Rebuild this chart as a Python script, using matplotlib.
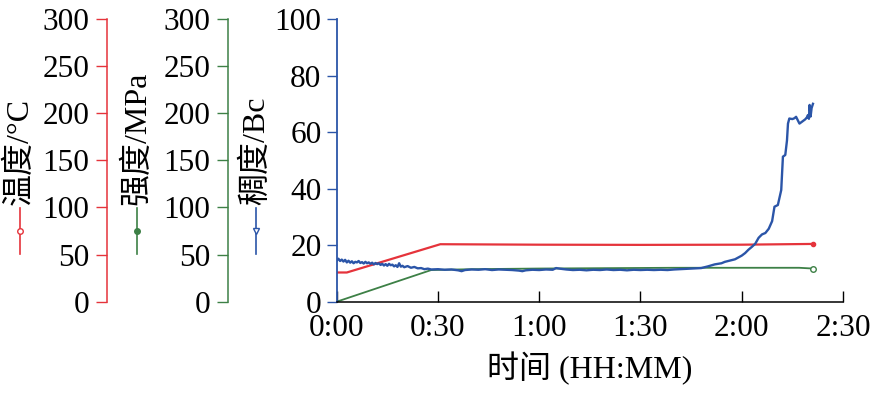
import matplotlib
matplotlib.use("Agg")
import matplotlib.pyplot as plt
from matplotlib.lines import Line2D
from matplotlib.ticker import FuncFormatter, MultipleLocator

plt.rcParams['font.family'] = ['Liberation Serif', 'Noto Sans CJK SC']
plt.rcParams['font.size'] = 22.5

# -------------------------------------------------------------------
# Datos (tiempo en minutos)
# -------------------------------------------------------------------
t_temp = [0, 3, 30.7, 60, 90, 120, 141]
temp = [31, 31, 61, 60.5, 60.3, 60.5, 61.3]

t_str = [0, 28, 40, 60, 80, 100, 120, 137, 141]
strength = [0, 33.6, 34.5, 35.2, 35.6, 36.0, 36.0, 36.0, 35.2]

t_bc = [0, 0.5, 1, 1.5, 2, 2.5, 3, 3.5, 4, 4.5, 5, 5.5, 6, 6.5, 7, 7.5, 8,
        8.5, 9, 9.5, 10, 10.5, 11, 11.5, 12, 12.5, 13, 13.5, 14, 14.5, 15,
        15.5, 16, 16.5, 17, 17.5, 18, 18.5, 19, 19.5, 20, 21, 22, 23, 24, 25,
        26, 27, 28, 30, 32, 34, 36, 37, 38, 40, 42, 44, 46, 48, 50, 52, 54,
        55, 56, 58, 60, 62, 64, 65, 66, 68, 70, 72, 74, 76, 78, 80, 82, 84,
        86, 88, 90, 92, 94, 96, 98, 100, 103, 105, 108, 110, 112, 114, 115,
        117, 118, 120, 121, 122, 123, 124, 125, 126, 127, 128, 129, 129.7,
        130.7, 131.7, 132.2, 132.9, 133.4, 133.7, 134.1, 135, 135.6, 136.1,
        136.6, 137.1, 138, 138.8, 139.3, 139.6, 139.9, 140.1, 140.4, 140.7,
        141.1]
bc = [14.5, 15.2, 14.4, 14.9, 14.2, 14.8, 13.9, 14.5, 13.8, 14.3, 13.6,
      14.1, 13.9, 14.4, 13.7, 14.0, 13.5, 14.1, 13.6, 13.9, 13.4, 13.8, 13.2,
      13.7, 13.3, 13.6, 13.0, 13.4, 12.8, 13.3, 12.7, 13.4, 12.9, 13.1, 12.5,
      12.9, 12.3, 13.6, 12.4, 12.7, 12.2, 12.6, 12.0, 12.3, 11.8, 11.9, 11.5,
      11.7, 11.4, 11.5, 11.3, 11.4, 11.1, 10.8, 11.2, 11.4, 11.3, 11.5, 11.2,
      11.4, 11.3, 11.2, 11.0, 10.8, 11.1, 11.3, 11.2, 11.4, 11.3, 11.9, 11.7,
      11.4, 11.2, 11.3, 11.1, 11.3, 11.2, 11.4, 11.2, 11.3, 11.1, 11.3, 11.2,
      11.3, 11.2, 11.3, 11.2, 11.4, 11.6, 11.7, 11.9, 12.5, 13.2, 13.6, 14.1,
      14.7, 15.0, 16.3, 17.2, 18.4, 19.4, 20.5, 22.6, 23.8, 24.3, 25.8, 28.5,
      33.6, 34.2, 39.5, 51.3, 51.9, 57.0, 63.0, 64.8, 64.6, 64.9, 65.4, 64.2,
      63.0, 63.8, 64.5, 65.2, 66.0, 64.7, 69.6, 65.5, 68.5, 70.0]

c_red = '#e5333b'
c_green = '#3d8046'
c_blue = '#2b55a8'

W, H = 874, 393
fig = plt.figure(figsize=(W / 100, H / 100), dpi=100)

x0, x1, y_bot, y_top = 336.7, 843, 301.7, 19
ax = fig.add_axes([x0 / W, 1 - y_bot / H, (x1 - x0) / W, (y_bot - y_top) / H])

# — ejes secundarios (temperatura y resistencia)
def eje_extra(color, pos):
    a = ax.twinx()
    for s in ('right', 'top', 'bottom'):
        a.spines[s].set_visible(False)
    a.spines['left'].set_visible(True)
    a.spines['left'].set_position(('axes', pos))
    a.spines['left'].set_color(color)
    a.spines['left'].set_linewidth(1.1)
    a.yaxis.tick_left()
    a.set_ylim(0, 300)
    a.yaxis.set_major_locator(MultipleLocator(50))
    a.tick_params(axis='y', direction='out', length=8, width=1, color=color, pad=5)
    return a

span = x1 - x0
axr = eje_extra(c_red, (107.3 - x0) / span)
axg = eje_extra(c_green, (228.3 - x0) / span)

axr.plot(t_temp, temp, color=c_red, lw=1.6, marker='o', ms=3, markevery=[-1])
axg.plot(t_str, strength, color=c_green, lw=1.3, marker='o', ms=4, mfc='white',
         markevery=[-1])

# — eje principal (consistencia)
ax.set_zorder(3)
ax.patch.set_visible(False)
ax.plot(t_bc, bc, color=c_blue, lw=1.7)
ax.set_xlim(0, 150)
ax.set_ylim(0, 100)
ax.xaxis.set_major_locator(MultipleLocator(30))
ax.xaxis.set_major_formatter(FuncFormatter(lambda v, p: f"{int(v) // 60}:{int(v) % 60:02d}"))
ax.yaxis.set_major_locator(MultipleLocator(20))
ax.spines['top'].set_visible(False)
ax.spines['right'].set_visible(False)
ax.spines['left'].set_color(c_blue)
ax.spines['left'].set_linewidth(1.3)
ax.spines['bottom'].set_linewidth(1.1)
ax.tick_params(axis='y', direction='out', length=7, width=1, color=c_blue, pad=4)
ax.tick_params(axis='x', direction='in', length=8, width=1, pad=9)
ax.set_xlabel('时间 (HH:MM)', fontsize=23, labelpad=6)

# — etiquetas verticales con su símbolo
labels = [('温度/°C', 20, c_red, 'o', 'white'),
          ('强度/MPa', 137, c_green, 'o', c_green),
          ('稠度/Bc', 256, c_blue, 'v', 'white')]
for txt, xp, col, mk, face in labels:
    fig.text(xp / W, 1 - 205 / H, txt, rotation=90, ha='center', va='bottom',
             fontsize=23)
    fig.add_artist(Line2D([xp / W, xp / W], [1 - 208 / H, 1 - 254 / H],
                          transform=fig.transFigure, color=col, lw=1.2))
    fig.add_artist(Line2D([xp / W], [1 - 231 / H], transform=fig.transFigure,
                          color=col, marker=mk, ms=4, mfc=face, mec=col, lw=0))

fig.savefig('out.png', dpi=100)
